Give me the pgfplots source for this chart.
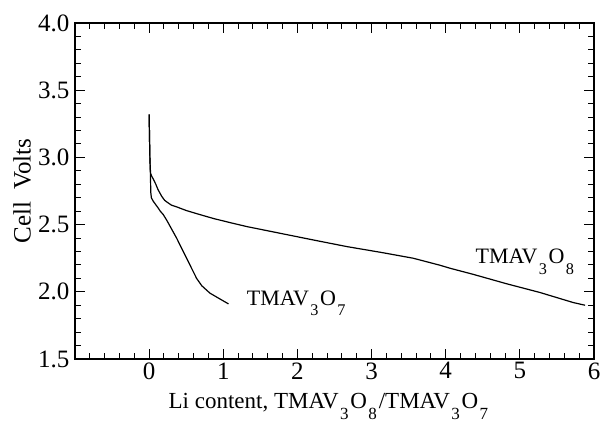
\documentclass[border=0pt]{standalone}
\usepackage{fontspec}
\setmainfont{Liberation Serif}
\usepackage{graphicx}
\usepackage{pgfplots}
\pgfplotsset{compat=1.18}

% lowered, reduced subscript used in the formulae
\newcommand{\lsub}[1]{\kern0.06em\raisebox{-0.48em}{\scalebox{0.74}{#1}}\kern0.08em}
\newcommand{\tmavO}[1]{TMAV\lsub{3}O\lsub{#1}}

\begin{document}
\begin{tikzpicture}
\begin{axis}[
  at={(0pt,0pt)}, anchor=south west,
  scale only axis, width=519pt, height=336pt,
  xmin=-1, xmax=6, ymin=1.5, ymax=4.0,
  xtick={-1,0,1,2,3,4,5,6}, xticklabels={,0,1,2,3,4,5,6},
  ytick={1.5,2.0,2.5,3.0,3.5,4.0},
  minor x tick num=4, minor y tick num=4,
  tick align=inside,
  xtick pos=both, ytick pos=both,
  major tick length=10pt, minor tick length=6pt,
  axis line style={line width=1.1pt},
  every tick/.style={black, line width=1pt},
  /pgf/number format/assume math mode=true,
  yticklabel style={/pgf/number format/fixed, /pgf/number format/precision=1,
    /pgf/number format/fixed zerofill, xshift=-2pt},
  tick label style={font=\fontsize{25}{27}\selectfont},
  xticklabel style={yshift=0pt},
  ylabel={Cell\ \ Volts},
  ylabel style={at={(axis description cs:-0.102,0.5)}, anchor=center,
    font=\fontsize{25}{27}\selectfont},
  xlabel={Li content, \tmavO{8}/\tmavO{7}},
  xlabel style={at={(axis description cs:0.49,-0.148)}, anchor=base,
    font=\fontsize{23}{25}\selectfont},
]
% TMAV3O8 discharge
\addplot[black, line width=1.2pt] coordinates {
  (0.000,3.32) (0.005,3.15) (0.010,3.00) (0.015,2.92) (0.020,2.88)
  (0.035,2.86) (0.055,2.84) (0.090,2.80) (0.120,2.76) (0.170,2.71)
  (0.210,2.68) (0.260,2.66) (0.300,2.645) (0.380,2.63) (0.500,2.605)
  (0.650,2.58) (0.870,2.545) (1.090,2.515) (1.320,2.485) (1.770,2.435)
  (2.220,2.385) (2.670,2.336) (3.120,2.294) (3.560,2.25) (3.920,2.198)
  (4.060,2.175) (4.370,2.13) (4.820,2.06) (5.270,1.995) (5.720,1.92)
  (5.880,1.90)
};
% TMAV3O7 discharge
\addplot[black, line width=1.2pt] coordinates {
  (0.000,3.32) (0.005,3.15) (0.010,3.00) (0.015,2.92) (0.018,2.86)
  (0.020,2.80) (0.022,2.74) (0.030,2.70) (0.054,2.675) (0.080,2.655)
  (0.120,2.625) (0.150,2.60) (0.190,2.575) (0.240,2.53) (0.280,2.49)
  (0.370,2.40) (0.460,2.30) (0.550,2.20) (0.640,2.10) (0.710,2.045)
  (0.820,1.99) (0.960,1.945) (1.070,1.91)
};
\node[anchor=base west, font=\fontsize{22}{24}\selectfont, inner sep=0pt]
  at (axis cs:4.40,2.21) {\tmavO{8}};
\node[anchor=base west, font=\fontsize{22}{24}\selectfont, inner sep=0pt]
  at (axis cs:1.317,1.90) {\tmavO{7}};
\end{axis}
\pgfresetboundingbox
\path[use as bounding box] (-75pt,-64pt) rectangle (526pt,359pt);
\end{tikzpicture}
\end{document}
